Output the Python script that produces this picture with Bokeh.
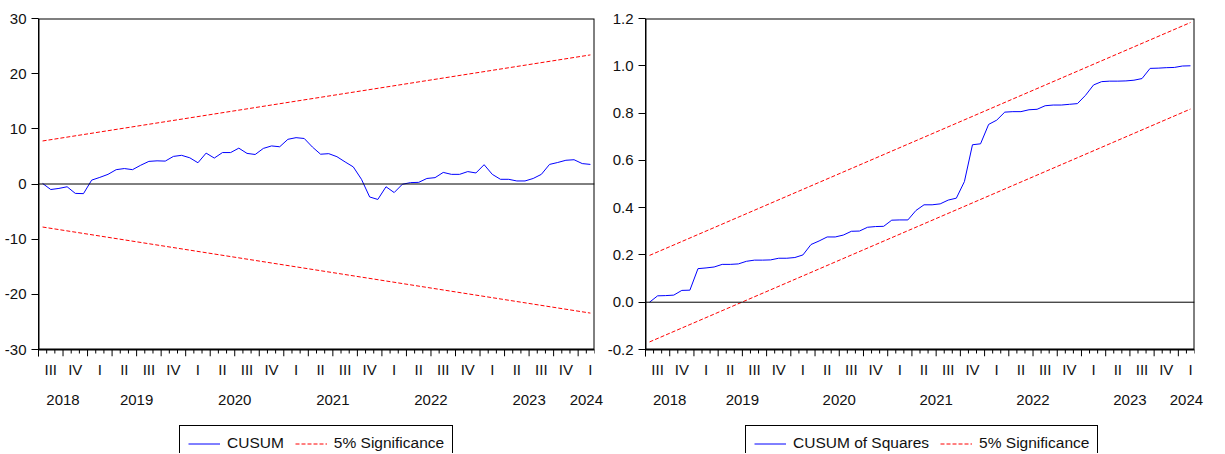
import pandas as pd
from bokeh.plotting import figure
from bokeh.models import (FixedTicker, LinearAxis, Legend, LegendItem, Span,
                          Range1d, NumeralTickFormatter)
from bokeh.layouts import row, column
from bokeh.embed import file_html
from bokeh.resources import INLINE

# ---------------- data ----------------
months = pd.period_range("2018-07", "2024-02", freq="M")  # 68 monthly observations

cusum = [0.1, -1.0, -0.8, -0.5, -1.7, -1.75, 0.7, 1.2, 1.75, 2.6,
         2.8, 2.6, 3.4, 4.1, 4.2, 4.15, 5.0, 5.2, 4.75, 3.85,
         5.6, 4.7, 5.7, 5.7, 6.5, 5.55, 5.35, 6.45, 6.9, 6.75,
         8.1, 8.4, 8.25, 6.7, 5.4, 5.5, 4.95, 4.0, 3.1, 0.85,
         -2.35, -2.8, -0.5, -1.55, -0.05, 0.25, 0.3, 1.0, 1.15, 2.1,
         1.75, 1.75, 2.25, 2.0, 3.5, 1.75, 0.85, 0.85, 0.55, 0.55,
         1.0, 1.75, 3.55, 3.9, 4.3, 4.4, 3.7, 3.55]
cusum_upper = [7.8, 23.4]
cusum_lower = [-7.8, -23.4]

cusumsq = [0.0, 0.027, 0.028, 0.03, 0.05, 0.051, 0.142, 0.145, 0.149, 0.16,
           0.16, 0.162, 0.173, 0.178, 0.178, 0.179, 0.186, 0.186, 0.189, 0.2,
           0.244, 0.259, 0.276, 0.276, 0.284, 0.3, 0.301, 0.317, 0.32, 0.321,
           0.347, 0.348, 0.348, 0.388, 0.412, 0.412, 0.416, 0.432, 0.44, 0.51,
           0.666, 0.67, 0.752, 0.77, 0.804, 0.806, 0.806, 0.814, 0.816, 0.831,
           0.834, 0.834, 0.837, 0.84, 0.875, 0.919, 0.933, 0.935, 0.935, 0.936,
           0.939, 0.946, 0.989, 0.99, 0.992, 0.993, 0.999, 1.0]
cusumsq_upper = [0.198, 1.183]
cusumsq_lower = [-0.168, 0.817]

roman = ["I", "II", "III", "IV"]
cusum_yticks = [-30, -20, -10, 0, 10, 20, 30]
cusumsq_yticks = [-0.2, 0.0, 0.2, 0.4, 0.6, 0.8, 1.0, 1.2]

# ---------------- derived positions ----------------
idx = list(range(len(months)))
bound_x = [idx[0], idx[-1]]
minor_bounds = [i - 0.5 for i, m in enumerate(months) if m.month not in (1, 4, 7, 10)] \
    + [idx[-1] + 0.5]
major_bounds = [i - 0.5 for i, m in enumerate(months) if m.month in (1, 4, 7, 10)]
q_pos = [i for i, m in enumerate(months) if m.month in (2, 5, 8, 11)]
q_over = {i: roman[months[i].quarter - 1] for i in q_pos}
year_over = {}
for yr in sorted(set(m.year for m in months)):
    ids = [i for i, m in enumerate(months) if m.year == yr]
    year_over[(ids[0] + ids[-1]) / 2] = str(yr)

FONT = "Liberation Sans"
FS = "15px"
LEG_FS = "15.5px"
TXT = "#111111"
VIS_H = 331      # visible plot box height in px
TICK_MAJ = 7     # quarter tick length, px
TICK_MIN = 4     # month tick length, px
LEG_H = 46       # height of the legend strip, px


def style_axis(ax):
    ax.major_label_text_font = FONT
    ax.major_label_text_font_size = FS
    ax.major_label_text_color = TXT
    ax.major_tick_in = 0
    ax.minor_tick_in = 0


def make_panel(values, upper, lower, y0, y1, yticks, fw, bl, br, fmt):
    ext = (y1 - y0) * TICK_MAJ / VIS_H
    ext_min = (y1 - y0) * TICK_MIN / VIS_H
    x_lo, x_hi = -0.5, len(values) - 0.5
    p = figure(frame_width=fw, frame_height=VIS_H + TICK_MAJ,
               x_range=Range1d(x_lo, x_hi),
               y_range=Range1d(y0 - ext, y1),
               output_backend="svg", toolbar_location=None,
               min_border_left=bl, min_border_right=br,
               min_border_top=18, min_border_bottom=0)
    p.grid.visible = False
    p.outline_line_color = None
    p.background_fill_color = "white"
    p.border_fill_color = "white"

    # plot box and zero line
    p.quad(left=[x_lo], right=[x_hi], bottom=[y0], top=[y1],
           fill_alpha=0, line_color="black", line_width=2)
    p.add_layout(Span(location=0, dimension="width", line_color="black",
                      line_width=1))

    # month / quarter tick marks below the box
    p.segment(x0=major_bounds, y0=[y0] * len(major_bounds),
              x1=major_bounds, y1=[y0 - ext] * len(major_bounds),
              line_color="black", line_width=1)
    p.segment(x0=minor_bounds, y0=[y0] * len(minor_bounds),
              x1=minor_bounds, y1=[y0 - ext_min] * len(minor_bounds),
              line_color="black", line_width=1)

    p.line(idx, values, line_color="#0000ff", line_width=1)
    p.line(bound_x, upper, line_color="#ff0000", line_dash="4 2", line_width=1)
    p.line(bound_x, lower, line_color="#ff0000", line_dash="4 2", line_width=1)

    # y axis
    ya = p.yaxis[0]
    ya.ticker = FixedTicker(ticks=yticks)
    ya.formatter = fmt
    style_axis(ya)
    ya.major_tick_out = 7
    ya.minor_tick_out = 0
    ya.major_label_standoff = 5
    ya.axis_line_color = "black"
    ya.major_tick_line_color = "black"

    # x axis: quarter labels
    xa = p.xaxis[0]
    xa.ticker = FixedTicker(ticks=q_pos)
    xa.major_label_overrides = q_over
    style_axis(xa)
    xa.major_tick_out = 0
    xa.minor_tick_out = 0
    xa.major_label_standoff = 4
    xa.axis_line_color = None

    # year labels
    yax = LinearAxis(ticker=FixedTicker(ticks=list(year_over.keys())),
                     major_label_overrides=year_over)
    style_axis(yax)
    yax.major_tick_out = 0
    yax.minor_tick_out = 0
    yax.axis_line_color = None
    yax.major_label_standoff = 14
    p.add_layout(yax, "below")
    return p


def make_legend(width, series_label, x_off):
    lf = figure(width=width, height=LEG_H, x_range=Range1d(0, 1),
                y_range=Range1d(0, 1), x_axis_type=None, y_axis_type=None,
                output_backend="svg", toolbar_location=None, min_border=0)
    lf.grid.visible = False
    lf.outline_line_color = None
    lf.background_fill_color = "white"
    lf.border_fill_color = "white"
    # placeholder renderers (outside the visible range) that carry the styles
    r_main = lf.line([-2, -1], [-2, -2], line_color="#0000ff", line_width=1)
    r_sig = lf.line([-2, -1], [-2, -2], line_color="#ff0000", line_dash="4 2",
                    line_width=1)
    legend = Legend(items=[LegendItem(label=series_label, renderers=[r_main]),
                           LegendItem(label="5% Significance", renderers=[r_sig])],
                    orientation="horizontal", location=(x_off, -8),
                    border_line_color="black", border_line_width=1,
                    border_line_alpha=1, background_fill_alpha=1,
                    padding=8, margin=0, spacing=11, label_standoff=7,
                    glyph_width=32, glyph_height=17, label_height=17,
                    label_text_font=FONT, label_text_font_size=LEG_FS,
                    label_text_color=TXT)
    lf.add_layout(legend, "center")
    return lf


left = make_panel(cusum, cusum_upper, cusum_lower, -30, 30, cusum_yticks,
                  556, 38, 10, NumeralTickFormatter(format="0"))
right = make_panel(cusumsq, cusumsq_upper, cusumsq_lower, -0.2, 1.2,
                   cusumsq_yticks, 549, 40, 12, NumeralTickFormatter(format="0.0"))

left_leg = make_legend(600, "CUSUM", 141)
right_leg = make_legend(590, "CUSUM of Squares", 100)

layout = row(column(left, left_leg), column(right, right_leg))
open("out.html", "w").write(file_html(layout, INLINE))
